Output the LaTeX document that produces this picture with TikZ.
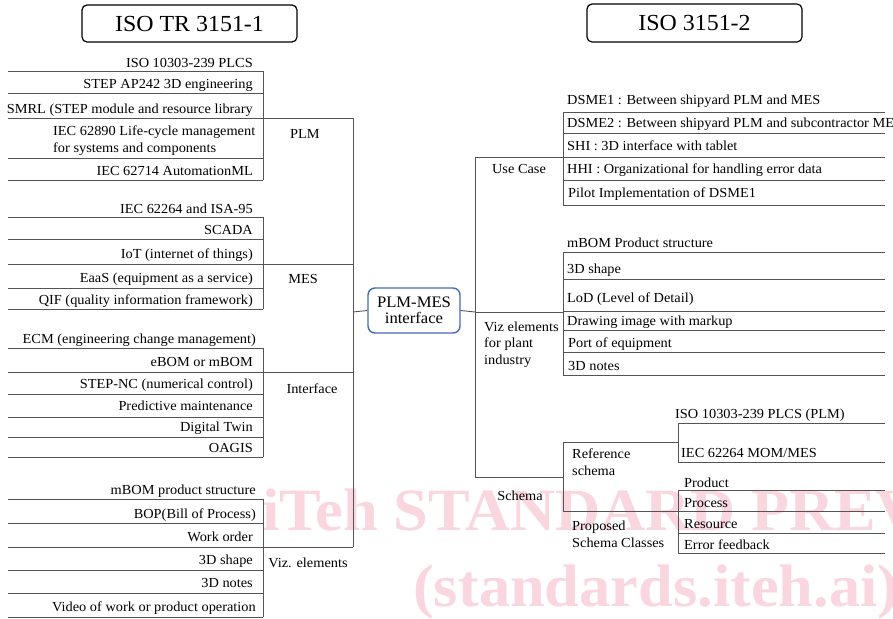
\documentclass[tikz,border=0pt]{standalone}
\usepackage{fontspec}
\setmainfont{Liberation Serif}[FakeStretch=1.04]
\definecolor{linegray}{rgb}{0.33,0.33,0.33}
\definecolor{boxblue}{rgb}{0.27,0.42,0.72}
\definecolor{wmpink}{rgb}{0.98,0.84,0.87}
\newcommand{\itemfont}{\fontsize{13.8}{16.5}\selectfont}
\begin{document}
\begin{tikzpicture}[x=1pt,y=-1pt,
  ln/.style={draw=linegray, line width=0.9pt},
  itm/.style={font=\itemfont, inner sep=0pt},
  itl/.style={itm, anchor=base west},
  itr/.style={itm, anchor=base east},
  grp/.style={itm, anchor=base, align=left},
  hdr/.style={draw=black, line width=1.2pt, rounded corners=5pt, font=\fontsize{23}{26}\selectfont, inner sep=0pt},
  ctr/.style={draw=boxblue, line width=1.4pt, rounded corners=7pt, font=\fontsize{16}{18}\selectfont, align=center, inner sep=0pt},
  wm/.style={text=wmpink, font=\fontsize{60}{60}\selectfont\bfseries, inner sep=0pt, anchor=base west}]
\useasboundingbox (0,0) rectangle (893,618);
\begin{scope}
\clip (0,0) rectangle (893,618);
\node[wm] (wm1) at (262,530) {iTeh STANDARD PREVIEW};
\node[wm] (wm2) at (413,606) {(standards.iteh.ai)};
\end{scope}
% headers
\node[hdr, minimum width=215pt, minimum height=37pt] (h1) at (189.5,23.5) {ISO TR 3151-1};
\node[hdr, minimum width=215pt, minimum height=38pt] (h2) at (694.5,23) {ISO 3151-2};
% centre
\node[ctr, minimum width=92pt, minimum height=45pt] (c) at (414,310.5) {PLM-MES\\[-2pt]interface};
% ---------- left: item lines
\foreach \y in {71,93,118,158,180} \draw[ln] (8,\y) -- (263,\y);
\draw[ln] (263,71) -- (263,180);
\foreach \y in {217,239,264,288,309} \draw[ln] (8,\y) -- (263,\y);
\draw[ln] (263,217) -- (263,309);
\foreach \y in {348,372,394,417,437,457} \draw[ln] (8,\y) -- (263,\y);
\draw[ln] (263,348) -- (263,457);
\foreach \y in {499,523,547,570,593,617} \draw[ln] (8,\y) -- (263,\y);
\draw[ln] (263,499) -- (263,617);
% brackets left
\coordinate (plmB) at (353,118);
\coordinate (mesB) at (353,264);
\coordinate (ifB) at (353,372);
\coordinate (vizB) at (353,547);
\coordinate (lj) at (353,312);
\draw[ln] (263,118) -- (plmB);
\draw[ln] (263,264) -- (mesB);
\draw[ln] (263,372) -- (ifB);
\draw[ln] (263,547) -- (vizB);
\draw[ln] (plmB) -- (vizB);
\draw[ln] (lj) -- (c.west);
% ---------- right
\coordinate (rj) at (475,312);
\coordinate (ucB) at (475,157);
\coordinate (scB) at (475,477);
\draw[ln] (c.east) -- (rj);
\draw[ln] (ucB) -- (scB);
\draw[ln] (ucB) -- (563,157);
\draw[ln] (rj) -- (563,312);
\draw[ln] (scB) -- (563,477);
\foreach \y in {112,133,157,180,205} \draw[ln] (563,\y) -- (885,\y);
\draw[ln] (563,112) -- (563,205);
\foreach \y in {252,279,311,330,352,375} \draw[ln] (563,\y) -- (885,\y);
\draw[ln] (563,252) -- (563,375);
\draw[ln] (563,442) -- (563,511);
\draw[ln] (563,442) -- (678,442);
\draw[ln] (678,423) -- (678,462);
\draw[ln] (678,423) -- (885,423);
\draw[ln] (678,462) -- (885,462);
\draw[ln] (563,511) -- (678,511);
\foreach \y in {490,511,533,553} \draw[ln] (678,\y) -- (885,\y);
\draw[ln] (678,490) -- (678,553);
% ---------- left texts
\node[itr] (l1) at (253,67) {ISO 10303-239 PLCS};
\node[itr] (l2) at (253,88) {STEP AP242 3D engineering};
\node[itr] (l3) at (253,113) {SMRL (STEP module and resource library};
\node[itm, anchor=base west, align=left] (l4) at (53,152) {IEC 62890 Life-cycle management\\for systems and components};
\node[itr] (l5) at (253,175) {IEC 62714 AutomationML};
\node[itr] (m1) at (253,213) {IEC 62264 and ISA-95};
\node[itr] (m2) at (253,234) {SCADA};
\node[itr] (m3) at (253,258) {IoT (internet of things)};
\node[itr] (m4) at (253,282) {EaaS (equipment as a service)};
\node[itr] (m5) at (253,304) {QIF (quality information framework)};
\node[itr] (i1) at (256,343) {ECM (engineering change management)};
\node[itr] (i2) at (253,366) {eBOM or mBOM};
\node[itr] (i3) at (253,388) {STEP-NC (numerical control)};
\node[itr] (i4) at (253,410) {Predictive maintenance};
\node[itr] (i5) at (253,431) {Digital Twin};
\node[itr] (i6) at (253,452) {OAGIS};
\node[itr] (v1) at (256,494) {mBOM product structure};
\node[itr] (v2) at (256,518) {BOP(Bill of Process)};
\node[itr] (v3) at (253,541) {Work order};
\node[itr] (v4) at (253,564) {3D shape};
\node[itr] (v5) at (253,587) {3D notes};
\node[itr] (v6) at (256,611) {Video of work or product operation};
\node[grp] (gplm) at (305,138) {PLM};
\node[grp] (gmes) at (303,283) {MES};
\node[grp] (gif) at (312,393) {Interface};
\node[grp] (gviz) at (308,567) {Viz. elements};
% ---------- right texts
\node[itl] (u1) at (567,104) {DSME1 : Between shipyard PLM and MES};
\node[itl] (u2) at (567,127) {DSME2 : Between shipyard PLM and subcontractor MES};
\node[itl] (u3) at (567,150) {SHI : 3D interface with tablet};
\node[itl] (u4) at (567,173) {HHI : Organizational for handling error data};
\node[itl] (u5) at (568,197) {Pilot Implementation of DSME1};
\node[itl] (r1) at (567,247) {mBOM Product structure};
\node[itl] (r2) at (567,273) {3D shape};
\node[itl] (r3) at (567,302) {LoD (Level of Detail)};
\node[itl] (r4) at (567,325) {Drawing image with markup};
\node[itl] (r5) at (568,347) {Port of equipment};
\node[itl] (r6) at (568,370) {3D notes};
\node[itl] (s1) at (675,418) {ISO 10303-239 PLCS (PLM)};
\node[itl] (s2) at (681,457) {IEC 62264 MOM/MES};
\node[itl] (p1) at (684,487) {Product};
\node[itl] (p2) at (684,507) {Process};
\node[itl] (p3) at (684,528) {Resource};
\node[itl] (p4) at (684,549) {Error feedback};
\node[grp] (guc) at (519,173) {Use Case};
\node[itm, anchor=base west, align=left] (gvr) at (484,364) {Viz elements\\for plant\\industry};
\node[itm, anchor=base west, align=left] (gref) at (572,475) {Reference\\schema};
\node[grp] (gsch) at (520,500) {Schema};
\node[itm, anchor=base west, align=left] (gprop) at (572,547) {Proposed\\Schema Classes};
\end{tikzpicture}
\end{document}
